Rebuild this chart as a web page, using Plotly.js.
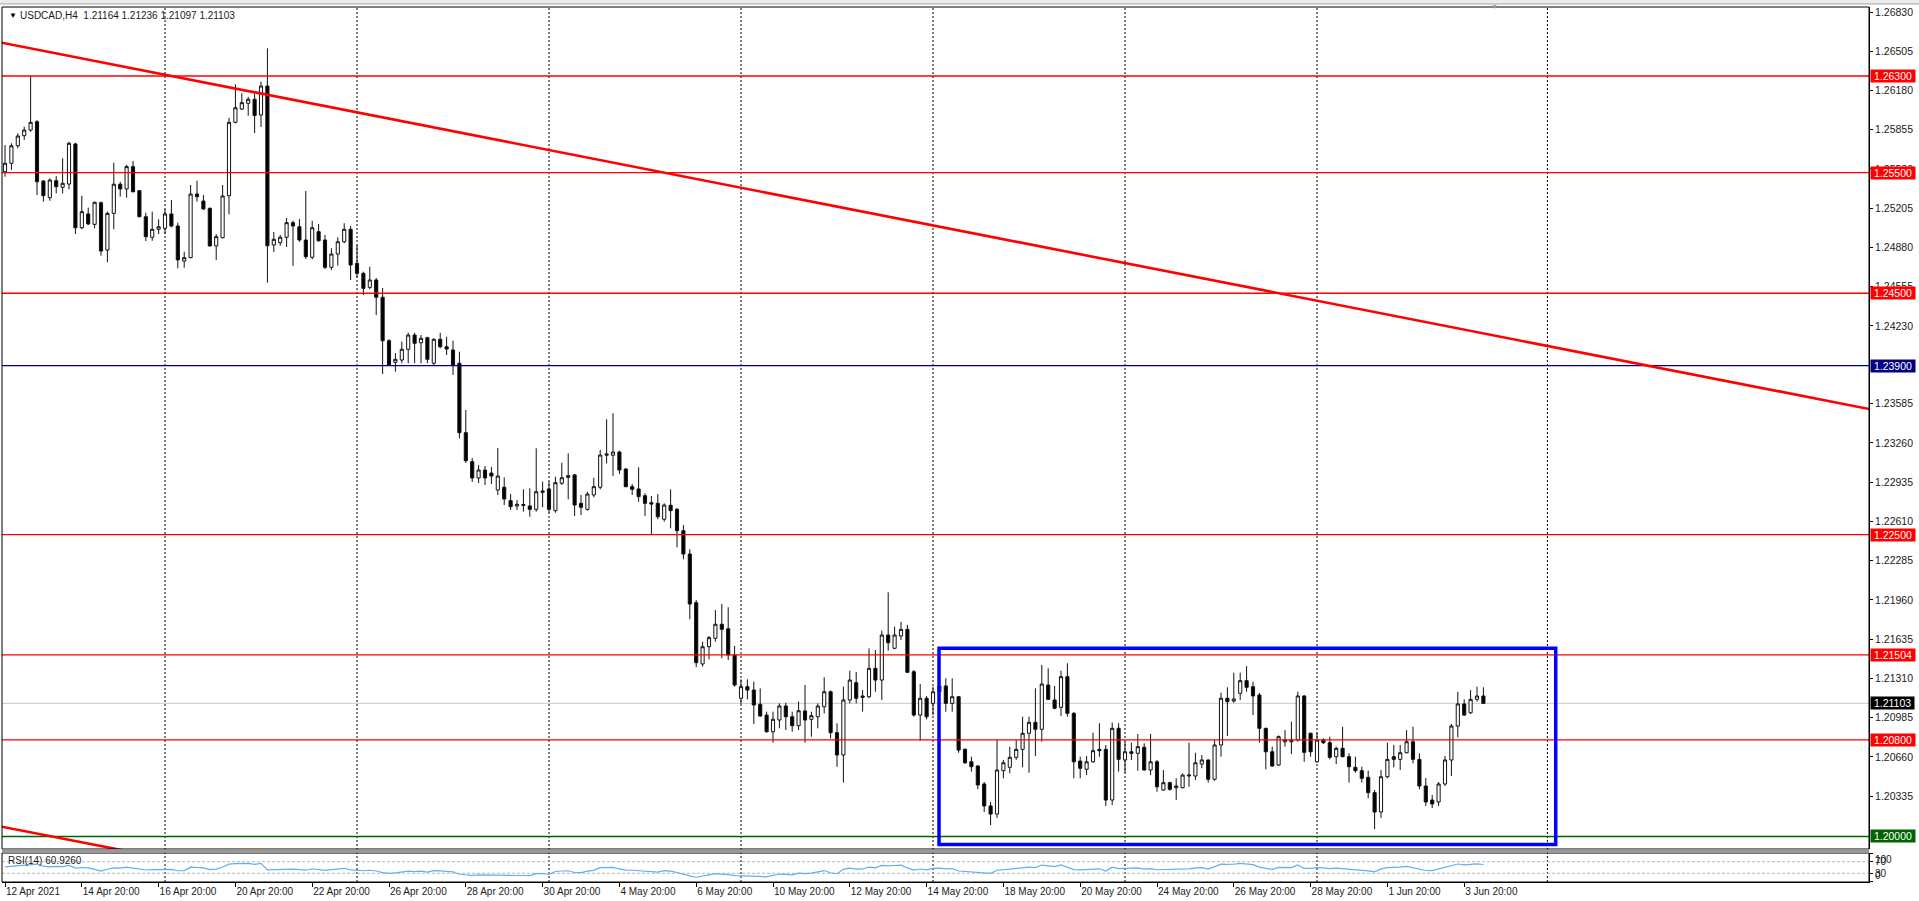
<!DOCTYPE html>
<html>
<head>
<meta charset="utf-8">
<script src="https://cdn.plot.ly/plotly-3.0.1.min.js"></script>
<style>
html,body{margin:0;padding:0;background:#fff;overflow:hidden}
#chart{width:1919px;height:901px}
</style>
</head>
<body>
<div id="chart"></div>
<script>
// ---------------- DATA ----------------
const symbolName = "USDCAD,H4";

const opens = [
1.25507,1.25577,1.25722,1.25805,1.25852,1.25921,1.25430,1.25292,1.25433,1.25378,1.25405,1.25737,
1.25043,1.25157,1.25071,1.25250,1.24858,1.25162,1.25403,1.25364,1.25549,1.25350,1.25134,1.24964,
1.25030,1.25038,1.25157,1.25057,1.24767,1.24795,1.25322,1.25264,1.25204,1.24892,1.24960,1.25308,
1.25916,1.26026,1.26074,1.26107,1.25977,1.26217,1.24900,1.24919,1.24964,1.25085,1.25051,1.24941,
1.24798,1.25010,1.24941,1.24715,1.24825,1.24927,1.25030,1.24748,1.24665,1.24549,1.24610,1.24467,
1.24107,1.23928,1.23947,1.24036,1.24154,1.24090,1.24132,1.23920,1.24119,1.24057,1.24030,1.23920,
1.23345,1.23105,1.22970,1.23036,1.23011,1.22870,1.22893,1.22782,1.22738,1.22742,1.22738,1.22710,
1.22851,1.22879,1.22699,1.22926,1.22975,1.22995,1.22760,1.22710,1.22829,1.22893,1.23158,1.23158,
1.23185,1.23044,1.22898,1.22879,1.22823,1.22765,1.22760,1.22628,1.22744,1.22710,1.22533,1.22340,
1.21937,1.21429,1.21572,1.21642,1.21758,1.21721,1.21503,1.21145,1.21241,1.21213,1.21095,1.21006,
1.20868,1.20965,1.21081,1.20992,1.20918,1.21040,1.20971,1.20992,1.21075,1.21199,1.20860,1.20675,
1.21131,1.21274,1.21164,1.21158,1.21393,1.21296,1.21669,1.21559,1.21661,1.21716,1.21365,1.21006,
1.21145,1.21103,1.21199,1.21247,1.21103,1.21158,1.20722,1.20619,1.20584,1.20435,1.20253,1.20186,
1.20545,1.20573,1.20656,1.20722,1.20855,1.20946,1.20888,1.21255,1.21131,1.21070,1.21324,1.21020,
1.20625,1.20557,1.20619,1.20722,1.20722,1.20302,1.20896,1.20634,1.20702,1.20689,1.20739,1.20551,
1.20619,1.20385,1.20446,1.20404,1.20404,1.20501,1.20501,1.20600,1.20634,1.20474,1.20758,1.21145,
1.21122,1.21186,1.21291,1.21241,1.21172,1.20896,1.20702,1.20592,1.20785,1.20785,1.20799,1.21164,
1.20855,1.20619,1.20799,1.20777,1.20661,1.20730,1.20661,1.20573,1.20545,1.20490,1.20363,1.20203,
1.20495,1.20661,1.20639,1.20694,1.20785,1.20639,1.20418,1.20302,1.20286,1.20435,1.20634,1.20915,
1.21098,1.21025,1.21136,1.21164
];

const highs = [
1.25728,1.25742,1.25825,1.25880,1.26302,1.25935,1.25438,1.25452,1.25471,1.25618,1.25756,1.25747,
1.25308,1.25209,1.25259,1.25259,1.25176,1.25582,1.25424,1.25563,1.25596,1.25355,1.25167,1.25176,
1.25113,1.25196,1.25273,1.25085,1.24844,1.25397,1.25433,1.25314,1.25209,1.24991,1.25397,1.25954,
1.26231,1.26157,1.26128,1.26151,1.26253,1.26529,1.25008,1.24983,1.25124,1.25101,1.25115,1.25347,
1.25101,1.25074,1.24983,1.24873,1.24964,1.25080,1.25057,1.24900,1.24679,1.24720,1.24626,1.24544,
1.24119,1.24005,1.24099,1.24173,1.24173,1.24154,1.24140,1.24127,1.24173,1.24140,1.24107,1.24016,
1.23533,1.23135,1.23077,1.23069,1.23061,1.23218,1.22975,1.22837,1.22787,1.22876,1.22884,1.23216,
1.22939,1.22939,1.22980,1.23096,1.23174,1.23003,1.22829,1.22856,1.22972,1.23202,1.23456,1.23506,
1.23196,1.23050,1.22920,1.23058,1.22843,1.22821,1.22837,1.22760,1.22876,1.22721,1.22580,1.22379,
1.21959,1.21614,1.21661,1.21876,1.21926,1.21899,1.21578,1.21302,1.21302,1.21282,1.21227,1.21034,
1.21034,1.21103,1.21108,1.21034,1.21117,1.21255,1.21034,1.21103,1.21319,1.21208,1.20938,1.21241,
1.21373,1.21363,1.21213,1.21559,1.21545,1.21705,1.22023,1.21738,1.21779,1.21752,1.21379,1.21263,
1.21164,1.21241,1.21271,1.21310,1.21310,1.21164,1.20730,1.20661,1.20590,1.20451,1.20286,1.20799,
1.20634,1.20744,1.20799,1.20992,1.20992,1.21227,1.21421,1.21393,1.21247,1.21373,1.21435,1.21031,
1.20661,1.20667,1.20860,1.20938,1.20758,1.20943,1.20938,1.20785,1.20777,1.20849,1.20772,1.20849,
1.20634,1.20551,1.20454,1.20482,1.20523,1.20777,1.20694,1.20675,1.20639,1.20799,1.21191,1.21236,
1.21357,1.21357,1.21412,1.21282,1.21189,1.20901,1.20744,1.20837,1.20882,1.20951,1.21199,1.21172,
1.20860,1.20860,1.20813,1.20827,1.20744,1.20909,1.20689,1.20661,1.20578,1.20545,1.20385,1.20551,
1.20777,1.20758,1.20758,1.20882,1.20909,1.20689,1.20484,1.20344,1.20451,1.20667,1.20932,1.21199,
1.21136,1.21213,1.21241,1.21236
];

const lows = [
1.25466,1.25521,1.25701,1.25770,1.25838,1.25314,1.25259,1.25267,1.25328,1.25328,1.25361,1.24991,
1.25030,1.25066,1.25038,1.24811,1.24757,1.25030,1.25300,1.25292,1.25336,1.25129,1.24933,1.24935,
1.24991,1.24991,1.25046,1.24707,1.24712,1.24790,1.25259,1.25190,1.24886,1.24776,1.24955,1.25154,
1.25908,1.26018,1.25971,1.25828,1.25877,1.24588,1.24842,1.24894,1.24883,1.24726,1.24927,1.24784,
1.24781,1.24927,1.24701,1.24693,1.24728,1.24914,1.24610,1.24632,1.24486,1.24533,1.24320,1.23831,
1.23898,1.23850,1.23920,1.23920,1.23920,1.23920,1.23920,1.23906,1.24044,1.23989,1.23823,1.23299,
1.23094,1.22937,1.22928,1.22912,1.22920,1.22829,1.22746,1.22705,1.22705,1.22691,1.22649,1.22691,
1.22727,1.22682,1.22682,1.22912,1.22793,1.22655,1.22663,1.22699,1.22810,1.22876,1.23091,1.22986,
1.23003,1.22893,1.22829,1.22773,1.22655,1.22503,1.22628,1.22608,1.22553,1.22396,1.22296,1.21799,
1.21402,1.21407,1.21468,1.21614,1.21476,1.21462,1.21241,1.21098,1.21136,1.20932,1.20992,1.20860,
1.20777,1.20896,1.20882,1.20868,1.20882,1.20777,1.20827,1.20896,1.21020,1.20813,1.20578,1.20446,
1.21103,1.21103,1.21034,1.21145,1.21199,1.21131,1.21539,1.21551,1.21628,1.21357,1.20992,1.20793,
1.20971,1.21006,1.21131,1.21034,1.21034,1.20694,1.20600,1.20537,1.20391,1.20203,1.20095,1.20153,
1.20482,1.20523,1.20634,1.20573,1.20528,1.20667,1.20785,1.21131,1.21054,1.20998,1.20992,1.20482,
1.20482,1.20509,1.20611,1.20661,1.20253,1.20261,1.20537,1.20528,1.20634,1.20545,1.20545,1.20509,
1.20371,1.20379,1.20379,1.20302,1.20399,1.20412,1.20468,1.20565,1.20446,1.20462,1.20661,1.20832,
1.21108,1.21131,1.21199,1.21006,1.20777,1.20557,1.20578,1.20584,1.20744,1.20683,1.20785,1.20619,
1.20661,1.20611,1.20766,1.20639,1.20600,1.20656,1.20446,1.20528,1.20446,1.20316,1.20062,1.20153,
1.20482,1.20573,1.20551,1.20689,1.20606,1.20391,1.20253,1.20236,1.20253,1.20418,1.20501,1.20822,
1.20998,1.21015,1.21117,1.21097
];

const closes = [
1.25577,1.25722,1.25803,1.25852,1.25916,1.25424,1.25308,1.25438,1.25383,1.25411,1.25742,1.25043,
1.25176,1.25074,1.25254,1.24850,1.25162,1.25403,1.25364,1.25549,1.25341,1.25134,1.24969,1.25030,
1.25051,1.25157,1.25057,1.24776,1.24795,1.25322,1.25300,1.25198,1.24892,1.24969,1.25306,1.25916,
1.26037,1.26079,1.26107,1.25973,1.26217,1.24894,1.24947,1.24964,1.25085,1.25057,1.24941,1.24803,
1.25043,1.24935,1.24715,1.24825,1.24927,1.25030,1.24734,1.24665,1.24541,1.24610,1.24467,1.24107,
1.23906,1.23953,1.24036,1.24154,1.24086,1.24127,1.23953,1.24119,1.24057,1.24038,1.23906,1.23345,
1.23113,1.22970,1.23036,1.22970,1.22986,1.22986,1.22796,1.22732,1.22752,1.22750,1.22710,1.22856,
1.22862,1.22710,1.22931,1.22972,1.22989,1.22746,1.22727,1.22837,1.22898,1.23160,1.23169,1.23185,
1.23036,1.22898,1.22876,1.22815,1.22760,1.22754,1.22649,1.22746,1.22699,1.22533,1.22340,1.21926,
1.21440,1.21572,1.21647,1.21758,1.21716,1.21503,1.21255,1.21241,1.21213,1.21089,1.20998,1.20868,
1.20971,1.21081,1.20992,1.20918,1.21042,1.20965,1.21001,1.21081,1.21199,1.20860,1.20675,1.21131,
1.21296,1.21145,1.21153,1.21393,1.21296,1.21669,1.21605,1.21669,1.21716,1.21360,1.21006,1.21145,
1.20992,1.21199,1.21247,1.21103,1.21158,1.20716,1.20611,1.20578,1.20427,1.20253,1.20186,1.20551,
1.20611,1.20656,1.20722,1.20855,1.20946,1.20888,1.21263,1.21136,1.21062,1.21324,1.21020,1.20619,
1.20565,1.20619,1.20711,1.20711,1.20302,1.20896,1.20639,1.20702,1.20689,1.20744,1.20551,1.20619,
1.20412,1.20446,1.20391,1.20418,1.20509,1.20509,1.20611,1.20634,1.20474,1.20758,1.21145,1.21117,
1.21139,1.21291,1.21236,1.21164,1.20896,1.20702,1.20584,1.20827,1.20799,1.20799,1.21164,1.20697,
1.20702,1.20799,1.20777,1.20656,1.20730,1.20661,1.20578,1.20545,1.20482,1.20363,1.20203,1.20495,
1.20639,1.20639,1.20694,1.20785,1.20639,1.20418,1.20286,1.20269,1.20435,1.20634,1.20915,1.21098,
1.21006,1.21136,1.21164,1.21103
];

// RSI(14) values for the first bars
const rsiReadStart = [52, 54, 57, 59, 61, 62, 55, 52, 54, 53, 57, 48, 50, 49];
const rsiPeriod = 14;
const rsiLabel = "RSI(14) 60.9260";
const rsiLevels = [70, 30];
const rsiTicks = [0, 30, 70, 100];

// time-axis labels (every 12 H4 bars)
const tickBars = [0,12,24,36,48,60,72,84,96,108,120,132,144,156,168,180,192,204,216,228];
const tickLabels = ["12 Apr 2021","14 Apr 20:00","16 Apr 20:00","20 Apr 20:00","22 Apr 20:00",
  "26 Apr 20:00","28 Apr 20:00","30 Apr 20:00","4 May 20:00","6 May 20:00","10 May 20:00",
  "12 May 20:00","14 May 20:00","18 May 20:00","20 May 20:00","24 May 20:00","26 May 20:00",
  "28 May 20:00","1 Jun 20:00","3 Jun 20:00"];

// weekly separators (bar index of the first bar of each week)
const weekStartBars = [25, 55, 85, 115, 145, 175, 205, 241];

// price scale labels (those visible on the scale)
const priceTicks = [1.26830,1.26505,1.26180,1.25855,1.25530,1.25205,1.24880,1.24555,1.24230,
  1.23585,1.23260,1.22935,1.22610,1.22285,1.21960,1.21635,1.21310,1.20985,1.20660,1.20335];

// horizontal levels drawn on the chart
const levelPrices = [1.26300, 1.25500, 1.24500, 1.23900, 1.22500, 1.21504, 1.20800, 1.20000];
const bidPrice = 1.21103;

// trend lines: [bar index], [price]
const trendBars = [-1, 300];
const trendPrices = [1.26581, 1.23450];
const trend2Bars = [-1, 30];
const trend2Prices = [1.20086, 1.19766];

// range rectangle: [bar index], [price]
const boxBars = [145.94, 242.3];
const boxPrices = [1.19934, 1.21559];

// ---------------- STYLE ----------------
const levelColors = ['#ff0000','#ff0000','#ff0000','#000080','#ff0000','#ff0000','#ff0000','#006400'];
const FONT = '"Liberation Sans", Arial, sans-serif';
const NB = '\u00a0';

// ---------------- BUILD ----------------
const N = opens.length;
const bars = opens.map((_, i) => i);

// RSI (Wilder) from the close series, after the read warm-up values
const rsi = new Array(N).fill(null);
for (let i = 0; i < rsiReadStart.length; i++) rsi[i] = rsiReadStart[i];
let ag = 0, al = 0;
for (let i = 1; i <= rsiPeriod; i++) {
  const d = closes[i] - closes[i - 1];
  if (d > 0) ag += d; else al -= d;
}
ag /= rsiPeriod; al /= rsiPeriod;
rsi[rsiPeriod] = al === 0 ? 100 : 100 - 100 / (1 + ag / al);
for (let i = rsiPeriod + 1; i < N; i++) {
  const d = closes[i] - closes[i - 1];
  ag = (ag * (rsiPeriod - 1) + Math.max(d, 0)) / rsiPeriod;
  al = (al * (rsiPeriod - 1) + Math.max(-d, 0)) / rsiPeriod;
  rsi[i] = al === 0 ? 100 : 100 - 100 / (1 + ag / al);
}

const traces = [
  {
    type: 'candlestick', x: bars, open: opens, high: highs, low: lows, close: closes,
    xaxis: 'x', yaxis: 'y',
    increasing: {line: {color: '#111', width: 1}, fillcolor: '#ffffff'},
    decreasing: {line: {color: '#111', width: 1}, fillcolor: '#000000'},
    whiskerwidth: 0, hoverinfo: 'skip', showlegend: false
  },
  {
    type: 'scatter', mode: 'lines', x: bars, y: rsi, xaxis: 'x', yaxis: 'y2',
    line: {color: '#62aef5', width: 1.2}, hoverinfo: 'skip', showlegend: false
  }
];

const shapes = [];
weekStartBars.forEach(b => shapes.push({
  type: 'line', xref: 'x', yref: 'paper', x0: b, x1: b, y0: 0, y1: 1,
  line: {color: '#000', width: 1, dash: '2px,2px'}, layer: 'below'
}));
shapes.push({type: 'line', xref: 'paper', yref: 'y', x0: 0, x1: 1, y0: bidPrice, y1: bidPrice,
  line: {color: '#c8c8c8', width: 1}, layer: 'below'});
rsiLevels.forEach(v => shapes.push({type: 'line', xref: 'paper', yref: 'y2', x0: 0, x1: 1, y0: v, y1: v,
  line: {color: '#b8b8b8', width: 1, dash: '3px,2px'}, layer: 'below'}));
levelPrices.forEach((p, i) => shapes.push({type: 'line', xref: 'paper', yref: 'y', x0: 0, x1: 1, y0: p, y1: p,
  line: {color: levelColors[i], width: 1.3}, layer: 'above'}));
shapes.push({type: 'line', xref: 'x', yref: 'y', x0: trendBars[0], x1: trendBars[1], y0: trendPrices[0], y1: trendPrices[1],
  line: {color: '#ff0000', width: 2.6}, layer: 'above'});
shapes.push({type: 'line', xref: 'x', yref: 'y', x0: trend2Bars[0], x1: trend2Bars[1], y0: trend2Prices[0], y1: trend2Prices[1],
  line: {color: '#ff0000', width: 2.6}, layer: 'above'});
shapes.push({type: 'rect', xref: 'x', yref: 'y', x0: boxBars[0], x1: boxBars[1], y0: boxPrices[0], y1: boxPrices[1],
  line: {color: '#0000ff', width: 3.5}, fillcolor: 'rgba(0,0,0,0)', layer: 'above'});
shapes.push({type: 'rect', xref: 'paper', yref: 'y domain', x0: 0, x1: 1, y0: 0, y1: 1,
  line: {color: '#000', width: 1}, fillcolor: 'rgba(0,0,0,0)', layer: 'above'});
shapes.push({type: 'rect', xref: 'paper', yref: 'y2 domain', x0: 0, x1: 1, y0: 0, y1: 1,
  line: {color: '#000', width: 1}, fillcolor: 'rgba(0,0,0,0)', layer: 'above'});
shapes.push({type: 'rect', xref: 'paper', yref: 'paper', x0: 0, x1: 1, y0: 0.0333, y1: 0.0372,
  line: {width: 0}, fillcolor: '#9a9a9a', layer: 'above'});
shapes.push({type: 'rect', xref: 'paper', yref: 'paper', x0: -0.01, x1: 1.05, y0: 1.0035, y1: 1.0085,
  line: {width: 0}, fillcolor: '#ececec', layer: 'above'});
shapes.push({type: 'line', xref: 'paper', yref: 'paper', x0: -0.01, x1: 1.05, y0: 1.0035, y1: 1.0035,
  line: {color: '#a0a0a0', width: 1}, layer: 'above'});

const annotations = [];
annotations.push({xref: 'paper', yref: 'paper', x: 0, y: 1, xanchor: 'left', yanchor: 'middle',
  xshift: 5, yshift: -8, showarrow: false, text: '▼', font: {family: FONT, size: 8, color: '#000'}});
const last = N - 1;
annotations.push({xref: 'paper', yref: 'paper', x: 0, y: 1, xanchor: 'left', yanchor: 'middle',
  xshift: 16, yshift: -8, showarrow: false,
  text: symbolName + NB + NB + [opens[last], highs[last], lows[last], closes[last]].map(v => v.toFixed(5)).join(' '),
  font: {family: FONT, size: 10, color: '#1a1a1a'}});
annotations.push({xref: 'paper', yref: 'paper', x: 0.7995, y: 1, xanchor: 'center', yanchor: 'middle',
  yshift: 1, showarrow: false, text: '▼', font: {family: FONT, size: 7, color: '#a0a0a0'}});
annotations.push({xref: 'paper', yref: 'y2 domain', x: 0, y: 1, xanchor: 'left', yanchor: 'top',
  xshift: 4, yshift: 0, showarrow: false, text: rsiLabel, font: {family: FONT, size: 10, color: '#1a1a1a'}});
// RSI scale labels, kept inside the small panel as the terminal does
rsiTicks.forEach(v => annotations.push({xref: 'paper', yref: 'y2', x: 1, y: v, xanchor: 'left',
  yanchor: v === 100 ? 'top' : (v === 0 ? 'bottom' : 'middle'),
  yshift: v === 100 ? 1 : (v === 0 ? -1 : 0),
  xshift: 4, showarrow: false, text: String(v), font: {family: FONT, size: 10, color: '#1a1a1a'}}));
// price boxes on the scale
levelPrices.forEach((p, i) => annotations.push({xref: 'paper', yref: 'y', x: 1, y: p, xanchor: 'left', yanchor: 'middle',
  xshift: 1, showarrow: false, text: NB + p.toFixed(5) + NB, bgcolor: levelColors[i], borderpad: 0,
  font: {family: FONT, size: 10.5, color: '#ffffff'}}));
annotations.push({xref: 'paper', yref: 'y', x: 1, y: bidPrice, xanchor: 'left', yanchor: 'middle',
  xshift: 1, showarrow: false, text: NB + bidPrice.toFixed(5) + NB, bgcolor: '#000000', borderpad: 0,
  font: {family: FONT, size: 10.5, color: '#ffffff'}});

const layout = {
  width: 1919, height: 901,
  margin: {l: 2, r: 50, t: 7, b: 19, pad: 0},
  paper_bgcolor: '#ffffff', plot_bgcolor: '#ffffff',
  showlegend: false, dragmode: false,
  font: {family: FONT, size: 10, color: '#1a1a1a'},
  xaxis: {
    domain: [0, 1], range: [-0.47, 291.25], anchor: 'y2',
    tickmode: 'array', tickvals: tickBars, ticktext: tickLabels,
    ticks: 'outside', ticklen: 4, tickwidth: 1, tickcolor: '#000',
    ticklabelposition: 'outside right',
    tickfont: {family: FONT, size: 10, color: '#1a1a1a'},
    showgrid: false, zeroline: false, showline: true, linecolor: '#000', linewidth: 1,
    rangeslider: {visible: false}, fixedrange: true
  },
  yaxis: {
    domain: [0.0377, 1], range: [1.198963, 1.268714], anchor: 'x', side: 'right',
    tickmode: 'array', tickvals: priceTicks, ticktext: priceTicks.map(v => v.toFixed(5)),
    ticks: 'outside', ticklen: 3, tickcolor: '#000',
    tickfont: {family: FONT, size: 10.5, color: '#1a1a1a'},
    showgrid: false, zeroline: false, showline: true, linecolor: '#000', linewidth: 1, fixedrange: true
  },
  yaxis2: {
    domain: [0, 0.0331], range: [0, 100], anchor: 'x', side: 'right',
    tickmode: 'array', tickvals: rsiTicks, showticklabels: false,
    ticks: 'outside', ticklen: 3, tickcolor: '#000',
    showgrid: false, zeroline: false, showline: true, linecolor: '#000', linewidth: 1, fixedrange: true
  },
  shapes: shapes,
  annotations: annotations
};

Plotly.newPlot('chart', traces, layout, {displayModeBar: false, staticPlot: true});
</script>
</body>
</html>
